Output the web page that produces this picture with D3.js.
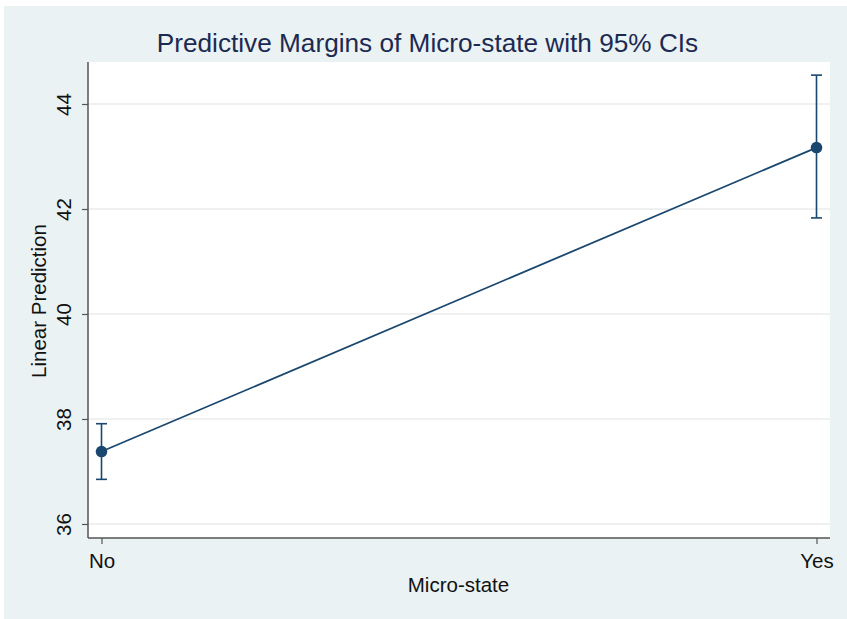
<!DOCTYPE html>
<html><head><meta charset="utf-8">
<script src="https://cdn.jsdelivr.net/npm/d3@7"></script>
<style>body{margin:0;background:#fff;} svg{display:block;font-family:"Liberation Sans",Arial,sans-serif;}</style>
</head><body>
<svg id="c" width="847" height="619"></svg>
<script>
const categories = ["No", "Yes"];
const margins = [37.38, 43.17];
const ciLower = [36.85, 41.83];
const ciUpper = [37.91, 44.55];
const yTicks = [36, 38, 40, 42, 44];
const titleText = "Predictive Margins of Micro-state with 95% CIs";
const xTitle = "Micro-state";
const yTitle = "Linear Prediction";

const svg = d3.select("#c");
const W = 847, H = 619;
const plot = {l: 88, r: 830, t: 62, b: 538};
const navy = "#1a476f";

svg.append("rect").attr("x", 4).attr("y", 6).attr("width", W - 4).attr("height", H - 6).attr("fill", "#eaf2f3");
svg.append("rect").attr("x", plot.l).attr("y", plot.t).attr("width", plot.r - plot.l).attr("height", plot.b - plot.t).attr("fill", "#ffffff");

const x = d3.scalePoint().domain(categories).range([plot.l + 13.5, plot.r - 13.5]);
const y = d3.scaleLinear().domain([35.733, 44.8]).range([plot.b, plot.t]);

// gridlines
svg.append("g").selectAll("line").data(yTicks).join("line")
  .attr("x1", plot.l).attr("x2", plot.r)
  .attr("y1", d => y(d)).attr("y2", d => y(d))
  .attr("stroke", "#eaeded").attr("stroke-width", 1.3);

// axes
const yAxis = svg.append("g").attr("transform", `translate(${plot.l},0)`)
  .call(d3.axisLeft(y).tickValues(yTicks).tickSize(6).tickPadding(6).tickFormat(d3.format("d")));
yAxis.select(".domain").attr("stroke", "#555").attr("stroke-width", 1.5).attr("d", `M0,${plot.t}V${plot.b}`);
yAxis.selectAll(".tick line").attr("stroke", "#555").attr("stroke-width", 1.2);
yAxis.selectAll(".tick text")
  .attr("transform", "rotate(-90)").attr("x", 0).attr("y", -17).attr("dy", 0)
  .attr("text-anchor", "middle").attr("font-size", 20.5).attr("fill", "#111");

const xAxis = svg.append("g").attr("transform", `translate(0,${plot.b})`)
  .call(d3.axisBottom(x).tickSize(6).tickPadding(5));
xAxis.select(".domain").attr("stroke", "#555").attr("stroke-width", 1.5).attr("d", `M${plot.l},0H${plot.r}`);
xAxis.selectAll(".tick line").attr("stroke", "#555").attr("stroke-width", 1.2);
xAxis.selectAll(".tick text").attr("font-size", 20.5).attr("fill", "#111").attr("y", 30).attr("dy", 0);

// data
const data = categories.map((c, i) => ({c, m: margins[i], lo: ciLower[i], hi: ciUpper[i]}));

const g = svg.append("g");
g.selectAll("line.ci").data(data).join("line").attr("class", "ci")
  .attr("x1", d => x(d.c)).attr("x2", d => x(d.c))
  .attr("y1", d => y(d.lo)).attr("y2", d => y(d.hi))
  .attr("stroke", navy).attr("stroke-width", 1.6);
["lo", "hi"].forEach(k => {
  g.selectAll("line.cap" + k).data(data).join("line").attr("class", "cap" + k)
    .attr("x1", d => x(d.c) - 5.5).attr("x2", d => x(d.c) + 5.5)
    .attr("y1", d => y(d[k])).attr("y2", d => y(d[k]))
    .attr("stroke", navy).attr("stroke-width", 1.6);
});
g.append("path").datum(data)
  .attr("d", d3.line().x(d => x(d.c)).y(d => y(d.m)))
  .attr("fill", "none").attr("stroke", navy).attr("stroke-width", 1.8);
g.selectAll("circle").data(data).join("circle")
  .attr("cx", d => x(d.c)).attr("cy", d => y(d.m)).attr("r", 5.8)
  .attr("fill", navy);

// titles
svg.append("text").attr("x", 427.5).attr("y", 52).attr("text-anchor", "middle")
  .attr("font-size", 26.2).attr("fill", "#1c2a52").text(titleText);
svg.append("text").attr("x", 458.5).attr("y", 592).attr("text-anchor", "middle")
  .attr("font-size", 20.5).attr("fill", "#111").text(xTitle);
svg.append("text").attr("transform", `translate(46,${(plot.t + plot.b) / 2 + 1}) rotate(-90)`)
  .attr("text-anchor", "middle").attr("font-size", 20.5).attr("fill", "#111").text(yTitle);
</script>
</body></html>
